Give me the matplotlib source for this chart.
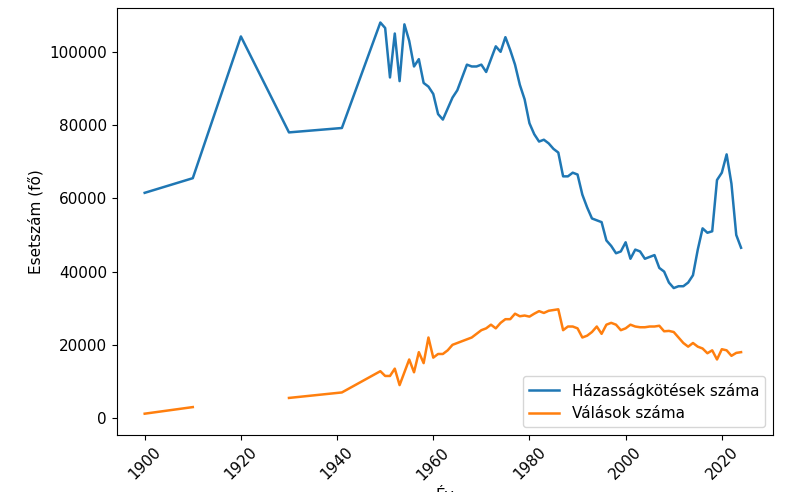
import numpy as np
import matplotlib
matplotlib.use("Agg")
import matplotlib.pyplot as plt

years = [1900, 1910, 1920, 1930, 1941] + list(range(1949, 2025))
marriages = [61500, 65500, 104200, 78000, 79200,
             108000, 106500, 93000, 105000, 92000, 107500, 103000, 96000, 98000, 91500,
             90500, 88500, 83000, 81500, 84500, 87500, 89500, 93000, 96500, 96000,
             96000, 96500, 94500, 98000, 101500, 100000, 104000, 100500, 96500, 91000,
             87000, 80500, 77500, 75500, 76000, 75000, 73500, 72500, 66000, 66000,
             67000, 66500, 61000, 57500, 54500, 54000, 53500, 48500, 47000, 45000,
             45500, 48000, 43500, 46000, 45500, 43500, 44000, 44500, 41000, 40000,
             37000, 35500, 36000, 36000, 37000, 39000, 46000, 51800, 50600, 51000,
             65000, 67000, 72000, 64000, 50000, 46500]
divorces = [1200, 3000, np.nan, 5500, 7000,
            12800, 11500, 11500, 13500, 9000, 12500, 16000, 12500, 18000, 15000,
            22000, 16500, 17500, 17500, 18500, 20000, 20500, 21000, 21500, 22000,
            23000, 24000, 24500, 25500, 24500, 26000, 27000, 27000, 28500, 27800,
            28000, 27700, 28500, 29200, 28700, 29300, 29500, 29700, 24000, 25000,
            25000, 24500, 22000, 22500, 23500, 25000, 23000, 25500, 26000, 25500,
            24000, 24500, 25500, 25000, 24800, 24800, 25000, 25000, 25200, 23700,
            23800, 23500, 22000, 20500, 19500, 20500, 19500, 19000, 17700, 18500,
            16000, 18800, 18500, 17000, 17800, 18000]

fig = plt.figure(figsize=(8, 4.92), dpi=100)
ax = fig.add_axes([0.146, 0.116, 0.82, 0.868])
ax.plot(years, marriages, color="#1f77b4", lw=1.8, label="Házasságkötések száma")
ax.plot(years, divorces, color="#ff7f0e", lw=1.8, label="Válások száma")
ax.set_ylabel("Esetszám (fő)", fontsize=11)
ax.set_xlabel("Év", fontsize=11)
ax.set_xlim(1894.2, 2030.6)
ax.set_ylim(-4600, 112000)
ax.set_xticks([1900, 1920, 1940, 1960, 1980, 2000, 2020])
ax.tick_params(axis="x", rotation=45, labelsize=11)
ax.tick_params(axis="y", labelsize=11)
ax.legend(loc="lower right", fontsize=11)
fig.savefig("out.png", dpi=100)
